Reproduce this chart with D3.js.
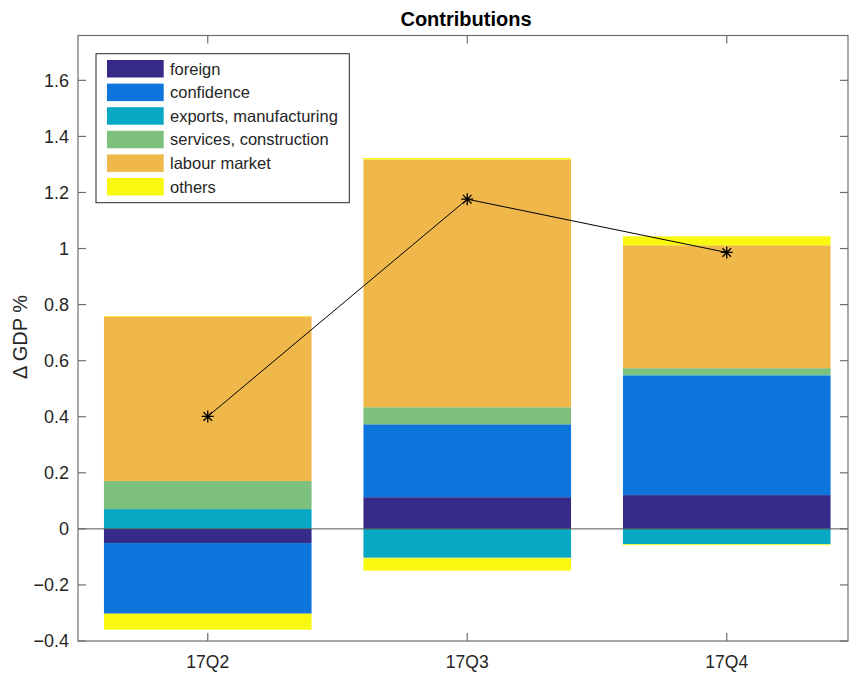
<html>
<head>
<meta charset="utf-8">
<script src="https://cdn.jsdelivr.net/npm/d3@7"></script>
<style>
  body { margin: 0; background: #fff; }
  text { font-family: "Liberation Sans", Arial, Helvetica, sans-serif; fill: #262626; }
</style>
</head>
<body>
<svg width="849" height="675"></svg>
<script>
// data
const quarters = ["17Q2", "17Q3", "17Q4"];
const groups = ["foreign", "confidence", "exports, manufacturing", "services, construction", "labour market", "others"];
// positive and negative parts of each group's contribution, per quarter
const contribUp = [
  [0, 0.113, 0.1205],
  [0, 0.260, 0.4267],
  [0.0706, 0, 0.002],
  [0.100, 0.061, 0.024],
  [0.587, 0.884, 0.4385],
  [0.002, 0.005, 0.032]
];
const contribDown = [
  [-0.0506, 0, 0],
  [-0.252, 0, 0],
  [0, -0.103, -0.055],
  [0, 0, 0],
  [0, -0.002, 0],
  [-0.057, -0.044, -0.003]
];
const gdp = [0.401, 1.176, 0.986];
const yTicks = [-0.4, -0.2, 0, 0.2, 0.4, 0.6, 0.8, 1, 1.2, 1.4, 1.6];

const colors = ["#352a87", "#0e75dc", "#07a8c4", "#7dbf7c", "#f0b84a", "#f8f90f"];

const svg = d3.select("svg");
const pLeft = 78, pTop = 35.5, pRight = 848, pBottom = 641;

var x = d3.scaleLinear().domain([0.5, 3.5]).range([pLeft, 856.5]);
var y = d3.scaleLinear().domain([-0.4, 1.76]).range([pBottom, pTop]);
const barW = x(1.8) - x(1);

// stack positives upward and negatives downward
var rects = [];
quarters.forEach(function(q, i) {
  var up = 0, down = 0;
  groups.forEach(function(g, k) {
    var v = contribUp[k][i];
    if (v > 0) { rects.push({i: i, k: k, y0: up, y1: up + v}); up += v; }
    var n = contribDown[k][i];
    if (n < 0) { rects.push({i: i, k: k, y0: down + n, y1: down}); down += n; }
  });
});

svg.append("g")
  .selectAll("rect")
  .data(rects)
  .enter()
  .append("rect")
  .attr("x", d => x(d.i + 1) - barW / 2)
  .attr("width", barW)
  .attr("y", d => y(d.y1))
  .attr("height", d => y(d.y0) - y(d.y1))
  .attr("fill", d => colors[d.k]);

// zero line
svg.append("line")
  .attr("x1", pLeft).attr("x2", pRight)
  .attr("y1", y(0)).attr("y2", y(0))
  .attr("stroke", "#555").attr("stroke-width", 1);

// gdp line with asterisks
var line = d3.line().x((d, i) => x(i + 1)).y(d => y(d));
svg.append("path")
  .attr("d", line(gdp))
  .attr("fill", "none")
  .attr("stroke", "#000")
  .attr("stroke-width", 1);

var s = 6, s2 = 4.3;
svg.append("g")
  .selectAll("path")
  .data(gdp)
  .enter()
  .append("path")
  .attr("transform", (d, i) => "translate(" + x(i + 1) + "," + y(d) + ")")
  .attr("d", "M" + (-s) + ",0H" + s + "M0," + (-s) + "V" + s +
             "M" + (-s2) + "," + (-s2) + "L" + s2 + "," + s2 +
             "M" + (-s2) + "," + s2 + "L" + s2 + "," + (-s2))
  .attr("stroke", "#000")
  .attr("stroke-width", 1.3)
  .attr("fill", "none");

// frame and ticks
const axisColor = "#6e6e6e";
svg.append("rect")
  .attr("x", pLeft).attr("y", pTop)
  .attr("width", pRight - pLeft).attr("height", pBottom - pTop)
  .attr("fill", "none").attr("stroke", axisColor).attr("stroke-width", 1.2);

var ticks = svg.append("g").attr("stroke", axisColor).attr("stroke-width", 1.2);
yTicks.forEach(function(t) {
  ticks.append("line").attr("x1", pLeft).attr("x2", pLeft + 8).attr("y1", y(t)).attr("y2", y(t));
  ticks.append("line").attr("x1", pRight).attr("x2", pRight - 8).attr("y1", y(t)).attr("y2", y(t));
});
quarters.forEach(function(q, i) {
  ticks.append("line").attr("x1", x(i + 1)).attr("x2", x(i + 1)).attr("y1", pBottom).attr("y2", pBottom - 8);
  ticks.append("line").attr("x1", x(i + 1)).attr("x2", x(i + 1)).attr("y1", pTop).attr("y2", pTop + 8);
});

svg.append("g")
  .selectAll("text")
  .data(yTicks)
  .enter()
  .append("text")
  .attr("x", pLeft - 9)
  .attr("y", d => y(d))
  .attr("dy", "0.36em")
  .attr("text-anchor", "end")
  .style("font-size", "18px")
  .text(d => d3.format("")(d));

svg.append("g")
  .selectAll("text")
  .data(quarters)
  .enter()
  .append("text")
  .attr("x", (d, i) => x(i + 1))
  .attr("y", 668)
  .attr("text-anchor", "middle")
  .style("font-size", "17.5px")
  .text(d => d);

svg.append("text")
  .attr("x", 466)
  .attr("y", 26)
  .attr("text-anchor", "middle")
  .style("font-size", "20px")
  .style("font-weight", "bold")
  .style("fill", "#000")
  .text("Contributions");

svg.append("text")
  .attr("transform", "translate(27,337) rotate(-90)")
  .attr("text-anchor", "middle")
  .style("font-size", "20px")
  .text("\u0394 GDP %");

// legend
var lg = svg.append("g");
lg.append("rect")
  .attr("x", 96).attr("y", 53.7).attr("width", 253.3).attr("height", 149)
  .attr("fill", "#fff").attr("stroke", "#262626").attr("stroke-width", 1);
groups.forEach(function(g, k) {
  lg.append("rect")
    .attr("x", 107).attr("y", 60 + k * 23.6)
    .attr("width", 56.7).attr("height", 17.5)
    .attr("fill", colors[k]);
  lg.append("text")
    .attr("x", 170).attr("y", 60 + k * 23.6 + 8.75)
    .attr("dy", "0.35em")
    .style("font-size", "16.5px")
    .text(g);
});
</script>
</body>
</html>
